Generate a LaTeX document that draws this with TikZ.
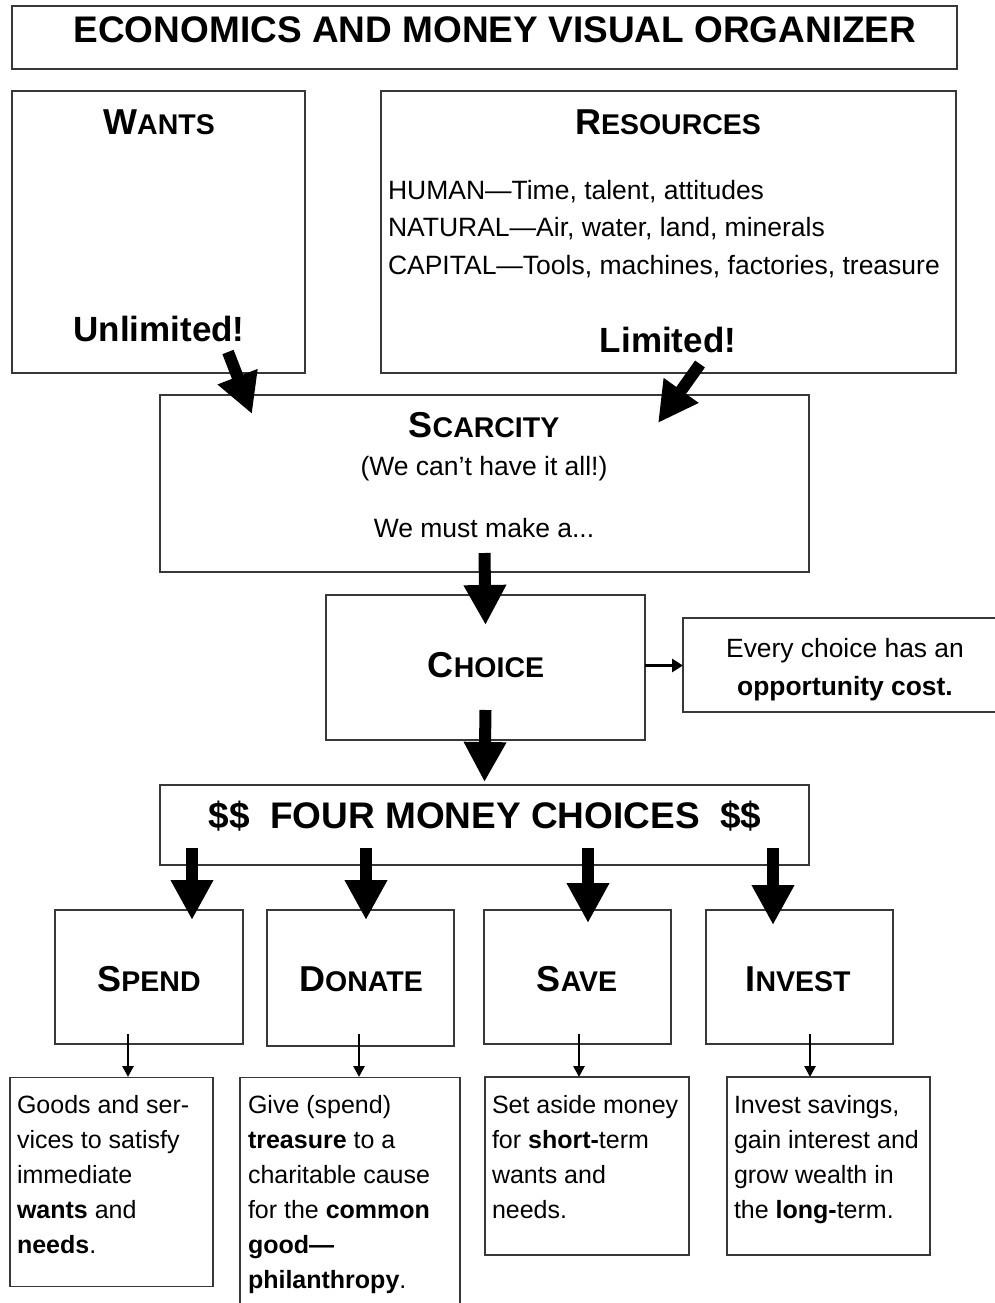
\documentclass[tikz,border=0pt]{standalone}
\usepackage{fontspec}
\setmainfont{Liberation Sans}
\usetikzlibrary{arrows.meta}
\definecolor{boxline}{gray}{0.22}
\newcommand{\fs}[1]{\fontsize{#1}{#1}\selectfont}
\newcommand{\hsc}[2]{\bfseries{\fs{36}#1}{\fs{28.5}#2}}
\begin{document}
\begin{tikzpicture}[x=1pt,y=-1pt,
  box/.style={draw=boxline, line width=1.6pt, inner sep=0pt, outer sep=0pt},
  txt/.style={inner sep=0pt, outer sep=0pt, anchor=base},
  ltxt/.style={inner sep=0pt, outer sep=0pt, anchor=base west},
  bigarrow/.style={line width=12pt, -{Triangle[width=40pt,length=40pt]}},
  smallarrow/.style={line width=2.6pt, -{Triangle[width=11pt,length=11pt]}},
  midarrow/.style={line width=3.5pt, -{Triangle[width=13pt,length=11pt]}}]
\useasboundingbox (0,0) rectangle (995,1303);
\clip (0,0) rectangle (995,1303);
\fill[white] (0,0) rectangle (995,1303);

% boxes
\node[box, minimum width=945pt, minimum height=63pt] (title) at (484.5,37.5) {};
\node[box, minimum width=293pt, minimum height=282pt] (wants) at (158.5,232) {};
\node[box, minimum width=575pt, minimum height=282pt] (res) at (668.5,232) {};
\node[box, minimum width=649pt, minimum height=177pt] (scar) at (484.5,483.5) {};
\node[box, minimum width=319pt, minimum height=145pt] (choice) at (485.5,667.5) {};
\node[box, minimum width=328pt, minimum height=94pt] (opp) at (847,665) {};
\node[box, minimum width=649pt, minimum height=80pt] (four) at (484.5,825) {};
\node[box, minimum width=188pt, minimum height=134pt] (spend) at (149,977) {};
\node[box, minimum width=187pt, minimum height=136pt] (donate) at (360.5,978) {};
\node[box, minimum width=187pt, minimum height=134pt] (save) at (577.5,977) {};
\node[box, minimum width=187pt, minimum height=134pt] (invest) at (799.5,977) {};
\node[box, minimum width=203pt, minimum height=209pt] (d1) at (111.5,1182) {};
\node[box, minimum width=220pt, minimum height=243pt] (d2) at (350,1199) {};
\node[box, minimum width=204pt, minimum height=178pt] (d3) at (587,1166) {};
\node[box, minimum width=203pt, minimum height=178pt] (d4) at (828.5,1166) {};

% texts
\node[txt] (titletext) at (495,43) {\bfseries\fs{37}ECONOMICS AND MONEY VISUAL ORGANIZER};
\node[txt] (wantsh) at (159,135) {\hsc{W}{ANTS}};
\node[txt] (resh) at (668,135) {\hsc{R}{ESOURCES}};
\node[ltxt] (r1) at (388,199) {\fs{26.5}HUMAN—Time, talent, attitudes};
\node[ltxt] (r2) at (388,236) {\fs{26.5}NATURAL—Air, water, land, minerals};
\node[ltxt] (r3) at (388,274) {\fs{26.5}CAPITAL—Tools, machines, factories, treasure};
\node[txt] (unlim) at (159,341) {\bfseries\fs{35}Unlimited!};
\node[txt] (lim) at (668,352) {\bfseries\fs{35}Limited!};
\node[txt] (scarh) at (484,437) {\hsc{S}{CARCITY}};
\node[txt] (scar1) at (484,475) {\fs{26.5}(We can’t have it all!)};
\node[txt] (scar2) at (484,537) {\fs{26.5}We must make a...};
\node[txt] (choiceh) at (486,677) {\hsc{C}{HOICE}};
\node[txt] (opp1) at (845,657) {\fs{26.4}Every choice has an};
\node[txt] (opp2) at (845,695) {\bfseries\fs{26.4}opportunity cost.};
\node[txt] (fourtext) at (485,828) {\bfseries\fs{37}\$\$\hspace{0.55em}FOUR MONEY CHOICES\hspace{0.55em}\$\$};
\node[txt] (spendh) at (149,991) {\hsc{S}{PEND}};
\node[txt] (donateh) at (361,991) {\hsc{D}{ONATE}};
\node[txt] (saveh) at (577,991) {\hsc{S}{AVE}};
\node[txt] (investh) at (798,991) {\hsc{I}{NVEST}};

\foreach \t [count=\i] in {{Goods and ser-},{vices to satisfy},{immediate},{\textbf{wants} and},{\textbf{needs}.}}
  \node[ltxt, name=d1l\i] at (17,{1078+35*\i}) {\fs{25}\t};
\foreach \t [count=\i] in {{Give (spend)},{\textbf{treasure} to a},{charitable cause},{for the \textbf{common}},{\textbf{good—}},{\textbf{philanthropy}.}}
  \node[ltxt, name=d2l\i] at (248,{1078+35*\i}) {\fs{25}\t};
\foreach \t [count=\i] in {{Set aside money},{for \textbf{short-}term},{wants and},{needs.}}
  \node[ltxt, name=d3l\i] at (492,{1078+35*\i}) {\fs{25}\t};
\foreach \t [count=\i] in {{Invest savings,},{gain interest and},{grow wealth in},{the \textbf{long-}term.}}
  \node[ltxt, name=d4l\i] at (734,{1078+35*\i}) {\fs{25}\t};

% arrows
\coordinate (w1) at (228,352); \coordinate (w2) at (252,414);
\coordinate (r1a) at (700,364); \coordinate (r2a) at (658,423);
\draw[bigarrow] (w1) -- (w2);
\draw[bigarrow] (r1a) -- (r2a);
\draw[bigarrow] ([yshift=19pt]scar.south) -- ([yshift=-30pt]choice.north);
\draw[bigarrow] ([yshift=30pt]choice.south) -- ([yshift=3pt]four.north);
\coordinate (ca) at ([yshift=2pt]choice.east);
\draw[midarrow] (ca) -- (ca -| opp.west);
\foreach \x/\n/\e in {192/spend/10,366/donate/10,588/save/13,773/invest/15}{
  \coordinate (fa\n) at (\x,848);
  \coordinate (fb\n) at (\x,{910+\e});
  \draw[bigarrow] (fa\n) -- (fb\n);
}
\foreach \x/\n/\d in {128/spend/d1,359/donate/d2,579/save/d3,810/invest/d4}{
  \coordinate (sa\n) at (\x,1034);
  \coordinate (sb\n) at (\x,1077);
  \draw[smallarrow] (sa\n) -- (sb\n);
}
\end{tikzpicture}
\end{document}
